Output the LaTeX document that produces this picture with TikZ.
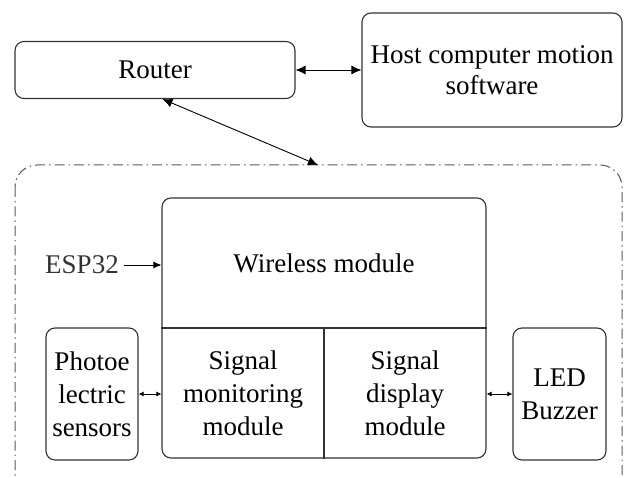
\documentclass[tikz,border=0pt]{standalone}
\usepackage{fontspec}
\setmainfont{Liberation Serif}
\usetikzlibrary{arrows.meta}

\tikzset{
  box/.style={draw=black!80, line width=1.1pt, rounded corners=9pt, fill=white,
    inner sep=0pt, align=center},
  lbl/.style={inner sep=0pt, align=center},
  bigarrow/.style={line width=0.9pt, {Latex[length=10pt,width=9pt]}-{Latex[length=10pt,width=9pt]}},
  smallarrow/.style={line width=0.9pt, {Latex[length=5pt,width=5pt]}-{Latex[length=5pt,width=5pt]}},
  onearrow/.style={line width=0.9pt, -{Latex[length=8pt,width=7pt]}},
  container/.style={draw=black!65, line width=1pt, rounded corners=22pt,
    dash pattern=on 10pt off 4pt on 1.5pt off 4pt},
}

\begin{document}
\begin{tikzpicture}[x=1pt, y=-1pt, font=\fontsize{27}{33}\selectfont]
  \useasboundingbox (0,0) rectangle (624,478);

  % dashed outline of the ESP32 board (its bottom runs off the page)
  \draw[container] (15,165) rectangle (622,505);

  % network side
  \node[box, minimum width=280pt, minimum height=57pt] (router) at (155,70) {Router};
  \node[box, minimum width=260pt, minimum height=114pt] (host) at (492,70)
    {Host computer motion\\[-2pt]software};

  % ESP32 main block, split into three parts
  \node[box, minimum width=324pt, minimum height=260pt] (mcu) at (324,328) {};
  \draw[black!80, line width=1.1pt] (mcu.west |- 0,328) -- (mcu.east |- 0,328);
  \draw[black!80, line width=1.1pt] (324,328) -- (mcu.south);
  \node[lbl] (wireless) at (324,263) {Wireless module};
  \node[lbl] (monitor) at (243,393) {Signal\\monitoring\\module};
  \node[lbl] (display) at (405,393) {Signal\\display\\module};

  % peripherals
  \node[box, minimum width=92pt, minimum height=132pt] (photo) at (92,394)
    {Photoe\\lectric\\sensors};
  \node[box, minimum width=93pt, minimum height=132pt] (led) at (559.5,394)
    {LED\\Buzzer};

  \node[lbl, text=black!80] (esp) at (82,265) {ESP32};

  % connectors
  \coordinate (boardtop) at (318,165);
  \draw[bigarrow] (router.east) -- (host.west);
  \draw[bigarrow] ([xshift=148pt]router.south west) -- (boardtop);
  \draw[onearrow] (esp.east) ++(5pt,0) -- (esp -| mcu.west);
  \draw[smallarrow] (photo.east) -- (photo -| mcu.west);
  \draw[smallarrow] (mcu.east |- led) -- (led.west);
\end{tikzpicture}
\end{document}
